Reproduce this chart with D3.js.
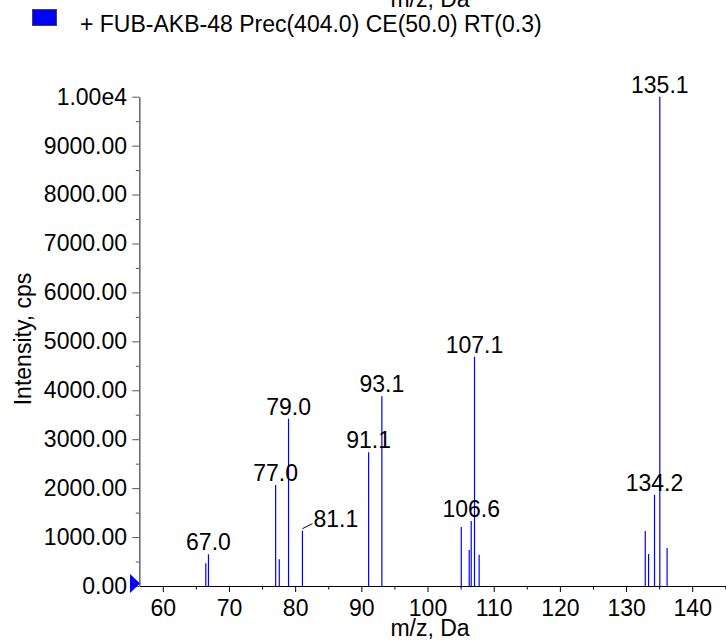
<!DOCTYPE html>
<html>
<head>
<meta charset="utf-8">
<script src="https://cdn.jsdelivr.net/npm/d3@7"></script>
<style>
  html, body { margin: 0; padding: 0; background: #fff; }
  svg { display: block; font-family: "Liberation Sans", Arial, sans-serif; }
</style>
</head>
<body>
<script>
// ---- data ----
const mzValues   = [66.5, 66.9, 77.05, 77.6, 79.0, 81.1, 91.1, 93.1, 105.1, 106.3, 106.6, 107.1, 107.8, 132.9, 133.4, 134.3, 135.1, 136.2];
const intensities = [464, 648, 2064, 546, 3420, 1131, 2732, 3876, 1206, 736, 1328, 4686, 640, 1124, 654, 1866, 10000, 777];
const peakLabels = ["", "67.0", "77.0", "", "79.0", "81.1", "91.1", "93.1", "", "", "106.6", "107.1", "", "", "", "134.2", "135.1", ""];
const xTicks = [60, 70, 80, 90, 100, 110, 120, 130, 140];
const yTicks = [0, 1000, 2000, 3000, 4000, 5000, 6000, 7000, 8000, 9000, 10000];
const yTickLabels = ["0.00", "1000.00", "2000.00", "3000.00", "4000.00", "5000.00", "6000.00", "7000.00", "8000.00", "9000.00", "1.00e4"];
const legendText = "+ FUB-AKB-48 Prec(404.0) CE(50.0) RT(0.3)";
const xTitle = "m/z, Da";
const yTitle = "Intensity, cps";

// ---- layout ----
const W = 726, H = 643;
const FS = 23;
const svg = d3.select("body").append("svg").attr("width", W).attr("height", H);

const x = d3.scaleLinear().domain([56.45, 145.1]).range([139.3, 726]);
const y = d3.scaleLinear().domain([0, 10000]).range([586, 96.7]);

// clipped title of the previous panel at the very top
svg.append("text").attr("x", 430).attr("y", 7).attr("text-anchor", "middle")
  .attr("font-size", FS).attr("fill", "#000").text(xTitle);

// legend
svg.append("rect").attr("x", 32.5).attr("y", 9.5).attr("width", 24).attr("height", 16)
  .attr("fill", "#0000ff").attr("stroke", "#444").attr("stroke-width", 1);
svg.append("text").attr("x", 80).attr("y", 31.7).attr("font-size", FS).attr("fill", "#000").text(legendText);

// x axis
const xMinor = d3.range(60, 146, 5).filter(v => v % 10 !== 0);
const gxMinor = svg.append("g").attr("transform", `translate(0,${y(0)})`)
  .call(d3.axisBottom(x).tickValues(xMinor).tickSize(3.5).tickFormat(""));
gxMinor.select(".domain").remove();
gxMinor.selectAll("line").attr("stroke", "#000");

const gx = svg.append("g").attr("transform", `translate(0,${y(0)})`)
  .call(d3.axisBottom(x).tickValues(xTicks).tickSize(6).tickSizeOuter(0).tickFormat(d3.format("d")));
gx.select(".domain").attr("stroke", "#000").attr("stroke-width", 1.2);
gx.selectAll("line").attr("stroke", "#000");
gx.selectAll("text").attr("y", 29.7).attr("dy", null).attr("font-size", FS)
  .attr("font-family", "Liberation Sans, Arial, sans-serif").attr("fill", "#000");

// y axis
const yMinor = d3.range(500, 10000, 1000);
const gyMinor = svg.append("g").attr("transform", `translate(${x.range()[0]},0)`)
  .call(d3.axisLeft(y).tickValues(yMinor).tickSize(3.5).tickFormat(""));
gyMinor.select(".domain").remove();
gyMinor.selectAll("line").attr("stroke", "#555");

const gy = svg.append("g").attr("transform", `translate(${x.range()[0]},0)`)
  .call(d3.axisLeft(y).tickValues(yTicks).tickSize(7).tickSizeOuter(0).tickPadding(5.3)
    .tickFormat((d, i) => yTickLabels[i]));
gy.select(".domain").attr("stroke", "#6e6e6e").attr("stroke-width", 1.6);
gy.selectAll("line").attr("stroke", "#555");
gy.selectAll("text").attr("font-size", FS).attr("font-family", "Liberation Sans, Arial, sans-serif").attr("fill", "#000");

// axis titles
svg.append("text").attr("x", 430).attr("y", 636).attr("text-anchor", "middle")
  .attr("font-size", FS).attr("fill", "#000").text(xTitle);
svg.append("text").attr("transform", `translate(31,339) rotate(-90)`).attr("text-anchor", "middle")
  .attr("font-size", FS).attr("fill", "#000").text(yTitle);

// peaks
const peaks = mzValues.map((m, i) => ({ mz: m, v: intensities[i], label: peakLabels[i] }));
svg.append("g").selectAll("line").data(peaks).join("line")
  .attr("x1", d => x(d.mz)).attr("x2", d => x(d.mz))
  .attr("y1", y(0)).attr("y2", d => y(d.v))
  .attr("stroke", "#0000ff").attr("stroke-width", 1.2);

// labels (81.1 is displaced with a leader line)
const lab = svg.append("g");
peaks.filter(d => d.label).forEach(d => {
  const px = x(d.mz), py = y(d.v);
  if (d.label === "81.1") {
    lab.append("line").attr("x1", px).attr("y1", py - 2).attr("x2", px + 10).attr("y2", py - 7)
      .attr("stroke", "#000").attr("stroke-width", 1);
    lab.append("text").attr("x", px + 11).attr("y", py - 4).attr("font-size", FS).attr("fill", "#000").text(d.label);
  } else {
    lab.append("text").attr("x", px).attr("y", py - 4).attr("text-anchor", "middle")
      .attr("font-size", FS).attr("fill", "#000").text(d.label);
  }
});

// blue marker at origin
svg.append("path")
  .attr("d", d3.line()([[130, y(0) - 12], [130, y(0) + 7], [140, y(0) - 2.5]]) + "Z")
  .attr("fill", "#0000ff");
</script>
</body>
</html>
